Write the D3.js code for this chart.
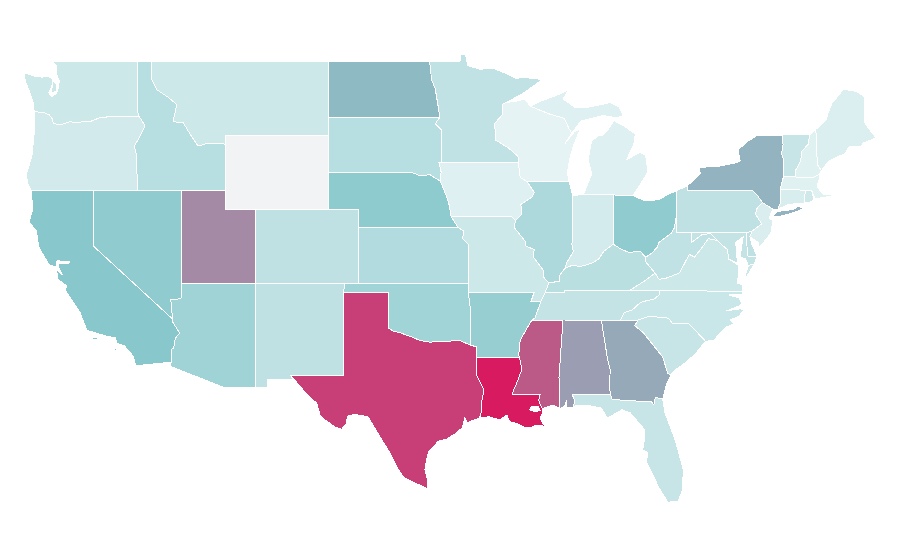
<!DOCTYPE html>
<meta charset="utf-8">
<style>
html,body{margin:0;background:#fff}
svg{display:block}
.state{stroke:#fff;stroke-width:1;stroke-linejoin:round;shape-rendering:crispEdges;fill-rule:evenodd}
</style>
<svg width="900" height="560"></svg>
<script src="https://cdn.jsdelivr.net/npm/d3@7"></script>
<script>
/*global d3*/
var width = 900, height = 560;

// state codes and their values (null = no data)
var stateCodes = ["WA","OR","CA","NV","ID","MT","WY","UT","AZ","NM","CO","ND","SD","NE","KS","OK","TX","MN","IA","MO","AR","LA","WI","IL","IN","MI","OH","KY","TN","MS","AL","GA","FL","SC","NC","VA","WV","PA","NY","NJ","MD","DE","CT","RI","MA","VT","NH","ME"];
var stateValues = [15,12,50,46,26,15,null,68,38,22,22,54,26,47,29,37,90,21,6,15,43,100,2,31,11,6,46,25,20,82,62,59,18,18,17,15,21,22,56,8,20,22,9,14,5,18,5,7];

// colour ramp
var rampStops = [0,50,100];
var rampColors = ["#eaf5f6","#88c8cc","#d81b60"];
var noDataColor = "#f2f3f5";

// outlines in lon/lat, one list of rings per state
var outlines = {
WA:[[[-122.76,49],[-117.04,49],[-117.04,46.42],[-116.92,46],[-118.98,46],[-119.3,45.93],[-119.6,45.92],[-120.2,45.73],[-120.65,45.73],[-121.2,45.65],[-121.55,45.72],[-122.25,45.55],[-122.7,45.62],[-122.8,45.9],[-123,46.1],[-123.4,46.22],[-124,46.26],[-124.05,46.7],[-124.15,46.95],[-124.3,47.3],[-124.6,47.9],[-124.7,48.38],[-124.1,48.2],[-123.5,48.13],[-123.1,48.15],[-122.8,48.1],[-122.78,47.7],[-123,47.3],[-122.85,47.07],[-122.55,47.2],[-122.4,47.45],[-122.3,47.9],[-122.5,48.3],[-122.5,48.75],[-122.76,49]],
[[-122.72,47.9],[-122.5,47.75],[-122.52,47.35],[-122.85,47.3]]],
OR:[[[-124,46.26],[-123.4,46.22],[-123,46.1],[-122.8,45.9],[-122.7,45.62],[-122.25,45.55],[-121.55,45.72],[-121.2,45.65],[-120.65,45.73],[-120.2,45.73],[-119.6,45.92],[-119.3,45.93],[-118.98,46],[-116.92,46],[-116.85,45.95],[-116.5,45.5],[-116.9,44.85],[-117.22,44.4],[-117.05,43.83],[-117.03,42],[-124.2,42],[-124.4,42.3],[-124.55,42.85],[-124.4,43.2],[-124.15,43.9],[-124.05,44.7],[-123.95,45.5]]],
CA:[[[-124.2,42],[-120,42],[-120,39],[-114.63,35.05],[-114.6,34.85],[-114.15,34.3],[-114.45,34],[-114.55,33.5],[-114.7,33.4],[-114.72,32.72],[-117.12,32.53],[-117.3,33.05],[-117.9,33.6],[-118.4,33.75],[-118.5,34.03],[-119.2,34.15],[-120.45,34.45],[-120.65,34.9],[-120.9,35.4],[-121.9,36.6],[-121.8,36.85],[-122.4,37.2],[-122.5,37.75],[-122.1,37.45],[-122.35,37.85],[-122.4,38.05],[-121.7,38.05],[-121.6,38.15],[-122.45,38.2],[-122.55,37.85],[-123,38],[-123.7,38.95],[-123.85,39.8],[-124.35,40.3],[-124.1,41]],
[[-120.2,34],[-119.9,34.07],[-119.55,34],[-119.9,33.95]],[[-118.6,33.47],[-118.35,33.4],[-118.5,33.33]]],
NV:[[[-120,42],[-114.05,42],[-114.05,36.2],[-114.35,36.1],[-114.75,36.1],[-114.7,35.6],[-114.63,35.05],[-120,39]]],
ID:[[[-117.04,49],[-116.05,49],[-116.05,48],[-115.7,47.45],[-114.95,47.05],[-114.35,46.65],[-114.6,45.72],[-113.9,45.65],[-113.45,45.05],[-112.9,44.4],[-112.3,44.55],[-111.5,44.55],[-111.05,44.5],[-111.05,42],[-117.03,42],[-117.05,43.83],[-117.22,44.4],[-116.9,44.85],[-116.5,45.5],[-116.85,45.95],[-116.92,46],[-117.04,46.42]]],
MT:[[[-116.05,49],[-104.05,49],[-104.05,45],[-111.05,45],[-111.05,44.5],[-111.5,44.55],[-112.3,44.55],[-112.9,44.4],[-113.45,45.05],[-113.9,45.65],[-114.6,45.72],[-114.35,46.65],[-114.95,47.05],[-115.7,47.45],[-116.05,48]]],
WY:[[[-111.05,45],[-104.05,45],[-104.05,41],[-111.05,41]]],
UT:[[[-114.05,42],[-111.05,42],[-111.05,41],[-109.05,41],[-109.05,37],[-114.05,37]]],
AZ:[[[-114.05,37],[-109.05,37],[-109.05,31.33],[-111.07,31.33],[-114.8,32.5],[-114.72,32.72],[-114.7,33.4],[-114.55,33.5],[-114.45,34],[-114.15,34.3],[-114.6,34.85],[-114.63,35.05],[-114.7,35.6],[-114.75,36.1],[-114.35,36.1],[-114.05,36.2]]],
NM:[[[-109.05,37],[-103,37],[-103.04,36.5],[-103.06,32],[-106.62,32],[-106.5,31.78],[-108.2,31.78],[-108.2,31.33],[-109.05,31.33]]],
CO:[[[-109.05,41],[-102.05,41],[-102.05,37],[-109.05,37]]],
ND:[[[-104.05,49],[-97.23,49],[-97.1,48],[-96.85,47.5],[-96.6,46.3],[-96.56,45.94],[-104.05,45.94]]],
SD:[[[-104.05,45.94],[-96.56,45.94],[-96.85,45.6],[-96.45,45.3],[-96.45,43.5],[-96.6,43.5],[-96.45,43],[-96.5,42.5],[-97.2,42.85],[-97.9,42.8],[-98.5,43],[-104.05,43]]],
NE:[[[-104.05,43],[-98.5,43],[-97.9,42.8],[-97.2,42.85],[-96.5,42.5],[-96.1,41.7],[-95.9,41.2],[-95.77,40.58],[-95.3,40],[-102.05,40],[-102.05,41],[-104.05,41]]],
KS:[[[-102.05,40],[-95.3,40],[-94.9,39.8],[-95,39.4],[-94.6,39.1],[-94.62,37],[-102.05,37]]],
OK:[[[-103,37],[-94.62,37],[-94.43,35.4],[-94.48,33.64],[-95.2,33.9],[-96,33.85],[-96.6,33.85],[-97.2,33.8],[-97.9,33.9],[-98.5,34.1],[-99.2,34.3],[-99.7,34.4],[-100,34.56],[-100,36.5],[-103.04,36.5]]],
TX:[[[-103.04,36.5],[-100,36.5],[-100,34.56],[-99.7,34.4],[-99.2,34.3],[-98.5,34.1],[-97.9,33.9],[-97.2,33.8],[-96.6,33.85],[-96,33.85],[-95.2,33.9],[-94.48,33.64],[-94.04,33.55],[-94.04,33],[-94.04,32],[-93.8,31.6],[-93.55,31.2],[-93.7,30.6],[-93.7,30.1],[-93.85,29.7],[-94.7,29.45],[-94.85,29.75],[-95,29.2],[-95.4,28.9],[-96.1,28.55],[-96.65,28.45],[-97,28.1],[-97.3,27.9],[-97.45,27.4],[-97.55,26.9],[-97.35,26.3],[-97.4,25.9],[-98.1,26.15],[-99,26.5],[-99.46,27.07],[-99.9,27.8],[-100.6,28.7],[-101.4,29.77],[-102.3,29.9],[-102.8,29.8],[-102.85,29.4],[-103.18,29.1],[-103.6,29.2],[-104.3,29.6],[-104.65,29.86],[-104.87,30.5],[-105.45,30.9],[-106.2,31.6],[-106.62,32],[-103.06,32]]],
MN:[[[-97.23,49],[-95.15,49],[-95.15,49.38],[-94.8,49.33],[-94.65,48.75],[-93.8,48.55],[-92.95,48.62],[-92,48.3],[-91.4,48.07],[-90.75,48.1],[-89.6,48],[-90.8,47.3],[-92.05,46.75],[-92.3,46.66],[-92.3,46.1],[-92.85,45.6],[-92.75,45],[-92.8,44.75],[-91.9,44.3],[-91.25,43.85],[-91.22,43.5],[-96.45,43.5],[-96.45,45.3],[-96.85,45.6],[-96.56,45.94],[-96.6,46.3],[-96.85,47.5],[-97.1,48]]],
IA:[[[-96.45,43.5],[-91.22,43.5],[-91.1,42.7],[-90.65,42.5],[-90.15,41.9],[-90.3,41.65],[-91.05,41.25],[-91,40.7],[-91.42,40.38],[-91.7,40.6],[-95.77,40.58],[-95.9,41.2],[-96.1,41.7],[-96.5,42.5],[-96.45,43],[-96.6,43.5]]],
MO:[[[-95.77,40.58],[-91.7,40.6],[-91.42,40.38],[-91.5,40],[-90.75,39.25],[-90.7,39],[-90.15,38.8],[-90.2,38.4],[-89.55,37.7],[-89.5,37.3],[-89.15,37],[-89.4,36.5],[-89.7,36],[-90.37,36],[-90.15,36.5],[-94.62,36.5],[-94.62,37],[-94.6,39.1],[-95,39.4],[-94.9,39.8],[-95.3,40]]],
AR:[[[-94.62,36.5],[-90.15,36.5],[-90.37,36],[-89.7,36],[-90.1,35.1],[-90.3,35],[-90.6,34.6],[-91.1,33.9],[-91.2,33.1],[-91.15,33],[-94.04,33],[-94.04,33.55],[-94.48,33.64],[-94.43,35.4]]],
LA:[[[-94.04,33],[-91.15,33],[-91,32.4],[-91,32.3],[-91.25,31.75],[-91.65,31],[-89.73,31],[-89.85,30.65],[-89.6,30.2],[-89.55,30],[-89.75,29.7],[-89.55,29.4],[-89.2,29.1],[-89.45,29.25],[-89.75,29.3],[-90.1,29.3],[-90.3,29.2],[-90.77,29.2],[-91.3,29.4],[-91.8,29.5],[-92,29.86],[-92.47,29.6],[-93.2,29.77],[-93.85,29.7],[-93.7,30.1],[-93.7,30.6],[-93.55,31.2],[-93.8,31.6],[-94.04,32]],
[[-90.45,30.15],[-90.3,30.35],[-89.85,30.3],[-89.75,30.1],[-90.1,30.05]]],
WI:[[[-92.05,46.75],[-91.2,46.85],[-90.8,46.95],[-90.4,46.55],[-89.1,46.13],[-88.1,45.9],[-87.8,45.35],[-87.6,45.1],[-88.05,44.55],[-87.4,45.2],[-87.05,45.3],[-87.5,44.4],[-87.75,43.7],[-87.9,43],[-87.8,42.5],[-90.65,42.5],[-91.1,42.7],[-91.22,43.5],[-91.25,43.85],[-91.9,44.3],[-92.8,44.75],[-92.75,45],[-92.85,45.6],[-92.3,46.1],[-92.3,46.66]]],
IL:[[[-90.65,42.5],[-87.8,42.5],[-87.53,41.7],[-87.53,39.35],[-87.6,39.1],[-87.5,38.7],[-87.95,38.1],[-88.05,37.8],[-88.45,37.4],[-88.45,37.1],[-89.15,37],[-89.5,37.3],[-89.55,37.7],[-90.2,38.4],[-90.15,38.8],[-90.7,39],[-90.75,39.25],[-91.5,40],[-91.42,40.38],[-91,40.7],[-91.05,41.25],[-90.3,41.65],[-90.15,41.9]]],
IN:[[[-87.53,41.7],[-87.2,41.76],[-86.82,41.76],[-84.8,41.76],[-84.8,39.1],[-85.45,38.7],[-85.8,38.28],[-86.3,38.05],[-87,37.9],[-87.6,37.95],[-88.05,37.8],[-87.95,38.1],[-87.5,38.7],[-87.6,39.1],[-87.53,39.35]]],
MI:[[[-90.4,46.55],[-89.8,46.8],[-88.45,47.2],[-87.8,47.45],[-88.2,46.95],[-87.4,46.5],[-86.5,46.5],[-85,46.75],[-84.4,46.5],[-84.1,46],[-84.7,45.95],[-85.5,46.05],[-86.5,45.85],[-87,45.75],[-87.6,45.1],[-87.8,45.35],[-88.1,45.9],[-89.1,46.13]],
[[-86.82,41.76],[-84.8,41.76],[-83.45,41.73],[-83.15,42.1],[-82.45,43],[-82.6,43.9],[-83,44.07],[-83.9,43.65],[-83.4,44.5],[-83.3,45.05],[-84.1,45.5],[-84.75,45.78],[-85.1,45.35],[-85.55,44.95],[-85.8,44.95],[-86.25,44.7],[-86.5,43.7],[-86.25,42.9]]],
OH:[[[-84.8,41.76],[-83.45,41.73],[-82.7,41.45],[-81.7,41.5],[-81.2,41.75],[-80.52,41.98],[-80.52,40.64],[-80.65,40],[-80.85,39.7],[-81.7,39.2],[-81.8,38.95],[-82.2,38.6],[-82.6,38.4],[-83,38.73],[-83.7,38.65],[-84.2,38.8],[-84.8,39.1]]],
KY:[[[-89.15,37],[-88.45,37.1],[-88.45,37.4],[-88.05,37.8],[-87.6,37.95],[-87,37.9],[-86.3,38.05],[-85.8,38.28],[-85.45,38.7],[-84.8,39.1],[-84.2,38.8],[-83.7,38.65],[-83,38.73],[-82.6,38.4],[-82.6,38.15],[-81.97,37.54],[-82.7,37.1],[-83.68,36.6],[-88.07,36.6],[-88.07,36.5],[-89.4,36.5]]],
TN:[[[-90.3,35],[-90.1,35.1],[-89.7,36],[-89.4,36.5],[-88.07,36.5],[-88.07,36.6],[-83.68,36.6],[-81.68,36.59],[-81.7,36.35],[-82.05,36.12],[-82.6,36.03],[-82.95,35.95],[-83.5,35.55],[-84.05,35.4],[-84.32,34.99],[-85.6,34.98],[-88.2,35]]],
MS:[[[-91.15,33],[-91.2,33.1],[-91.1,33.9],[-90.6,34.6],[-90.3,35],[-88.2,35],[-88.47,31.9],[-88.4,30.2],[-88.9,30.4],[-89.6,30.2],[-89.85,30.65],[-89.73,31],[-91.65,31],[-91.25,31.75],[-91,32.3],[-91,32.4]]],
AL:[[[-88.2,35],[-85.6,34.98],[-85.18,32.87],[-85,32.3],[-85.05,31.55],[-85,31],[-87.6,31],[-87.4,30.65],[-87.5,30.3],[-88,30.25],[-87.95,30.65],[-88.1,30.35],[-88.4,30.2],[-88.47,31.9]]],
GA:[[[-85.6,34.98],[-84.32,34.99],[-83.11,35],[-83.35,34.7],[-82.75,34.3],[-81.95,33.5],[-81.45,33],[-81.1,32.1],[-80.9,32.03],[-81.2,31.5],[-81.45,30.72],[-81.95,30.83],[-82.05,30.4],[-82.2,30.57],[-84.86,30.7],[-85,31],[-85.05,31.55],[-85,32.3],[-85.18,32.87]]],
FL:[[[-87.6,31],[-85,31],[-84.86,30.7],[-82.2,30.57],[-82.05,30.4],[-81.95,30.83],[-81.45,30.72],[-81.3,30],[-80.6,28.5],[-80.05,26.9],[-80.12,25.8],[-80.4,25.2],[-81.1,25.15],[-81.75,26],[-82.15,26.7],[-82.55,27.3],[-82.45,27.85],[-82.8,27.98],[-82.65,28.7],[-82.65,29.05],[-83.65,29.98],[-84.2,30.15],[-85.2,29.7],[-85.6,30.24],[-86.5,30.38],[-87.3,30.4],[-87.5,30.3],[-87.4,30.65]]],
SC:[[[-83.35,34.7],[-83.11,35],[-82.35,35.2],[-81.05,35.1],[-80.8,34.82],[-79.67,34.8],[-78.55,33.85],[-79.2,33.2],[-79.9,32.7],[-80.6,32.3],[-80.9,32.03],[-81.1,32.1],[-81.45,33],[-81.95,33.5],[-82.75,34.3]]],
NC:[[[-84.32,34.99],[-84.05,35.4],[-83.5,35.55],[-82.95,35.95],[-82.6,36.03],[-82.05,36.12],[-81.7,36.35],[-81.68,36.59],[-76.06,36.55],[-76.05,36.4],[-76.95,36.35],[-76.3,36.2],[-76.1,35.9],[-76.3,35.75],[-77.1,35.5],[-76.2,35.6],[-75.95,35.55],[-76.3,35.2],[-76.9,35],[-76.6,34.8],[-77.2,34.6],[-78,33.9],[-78.55,33.85],[-79.67,34.8],[-80.8,34.82],[-81.05,35.1],[-82.35,35.2],[-83.11,35]]],
VA:[[[-83.68,36.6],[-81.68,36.59],[-76.06,36.55],[-76.05,36.9],[-76.4,37],[-76.3,37.55],[-76.3,37.95],[-77,38.3],[-77.05,38.8],[-77.5,39.1],[-77.75,39.3],[-78.35,39.4],[-78.9,38.8],[-79.3,38.4],[-79.65,38.55],[-80.3,37.55],[-81.25,37.25],[-81.7,37.2],[-81.97,37.54],[-82.7,37.1]],
[[-75.95,37.15],[-75.6,37.55],[-75.25,38.03],[-75.65,37.95]]],
WV:[[[-82.6,38.15],[-82.6,38.4],[-82.2,38.6],[-81.8,38.95],[-81.7,39.2],[-80.85,39.7],[-80.65,40],[-80.52,40.64],[-80.52,39.72],[-79.48,39.72],[-79.48,39.2],[-78.8,39.6],[-78.2,39.68],[-77.75,39.3],[-78.35,39.4],[-78.9,38.8],[-79.3,38.4],[-79.65,38.55],[-80.3,37.55],[-81.25,37.25],[-81.7,37.2],[-81.97,37.54]]],
PA:[[[-80.52,41.98],[-79.76,42.27],[-79.76,42],[-75.35,42],[-75.05,41.75],[-74.7,41.35],[-75.1,41],[-75.15,40.7],[-74.75,40.2],[-75.4,39.8],[-75.8,39.72],[-80.52,39.72]]],
NY:[[[-79.76,42],[-79.76,42.27],[-78.9,42.9],[-79,43.25],[-77.7,43.3],[-76.5,43.5],[-76.2,43.6],[-76.35,44.2],[-75.7,44.65],[-75.1,44.95],[-74.7,45],[-73.35,45],[-73.3,44.5],[-73.4,44],[-73.25,43.6],[-73.27,42.75],[-73.5,42.05],[-73.5,41.3],[-73.65,41],[-74,41],[-74.7,41.35],[-75.05,41.75],[-75.35,42]],
[[-74,40.6],[-73.7,40.87],[-72.6,40.97],[-72.3,41.15],[-71.9,41.05],[-72.5,40.82],[-73.5,40.6]]],
NJ:[[[-74.7,41.35],[-74,41],[-74.25,40.5],[-74,40.4],[-74.1,39.75],[-74.4,39.4],[-74.9,38.95],[-75,39.2],[-75.55,39.5],[-75.4,39.8],[-74.75,40.2],[-75.15,40.7],[-75.1,41]]],
MD:[[[-79.48,39.72],[-75.8,39.72],[-75.7,38.46],[-75.05,38.45],[-75.25,38.03],[-75.65,37.95],[-75.85,38.3],[-76.2,38.4],[-76.1,39],[-76,39.5],[-76.5,39.2],[-76.45,38.5],[-76.35,38.05],[-77,38.3],[-77.05,38.8],[-77.5,39.1],[-77.75,39.3],[-78.2,39.68],[-78.8,39.6],[-79.48,39.2]]],
DE:[[[-75.8,39.72],[-75.4,39.8],[-75.55,39.5],[-75.4,39.05],[-75.05,38.45],[-75.7,38.46]]],
CT:[[[-73.5,42.05],[-71.8,42.02],[-71.85,41.32],[-72.9,41.25],[-73.65,41],[-73.5,41.3]]],
RI:[[[-71.8,42.02],[-71.38,42.02],[-71.2,41.5],[-71.5,41.37],[-71.85,41.32]]],
MA:[[[-73.5,42.05],[-73.27,42.75],[-72.46,42.73],[-71.3,42.7],[-70.85,42.87],[-70.8,42.75],[-71,42.2],[-70.6,41.8],[-70.05,41.78],[-70,41.7],[-70.65,41.62],[-71.13,41.55],[-71.2,41.7],[-71.38,42.02],[-71.8,42.02]]],
VT:[[[-73.35,45],[-71.5,45.01],[-71.6,44.5],[-72.05,44.1],[-72.1,43.6],[-72.45,43.1],[-72.46,42.73],[-73.27,42.75],[-73.25,43.6],[-73.4,44],[-73.3,44.5]]],
NH:[[[-71.5,45.01],[-71.08,45.3],[-70.98,43.4],[-70.7,43.07],[-70.85,42.87],[-71.3,42.7],[-72.46,42.73],[-72.45,43.1],[-72.1,43.6],[-72.05,44.1],[-71.6,44.5]]],
ME:[[[-71.08,45.3],[-70.4,45.8],[-70.25,46.2],[-70,46.7],[-69.23,47.46],[-69,47.45],[-68.3,47.35],[-67.8,47.07],[-67.8,45.7],[-67.45,45.3],[-67,44.85],[-67.9,44.55],[-68,44.4],[-68.8,44.4],[-69.1,44],[-69.8,43.75],[-70.25,43.55],[-70.7,43.07],[-70.98,43.4]]]
};

var svg = d3.select("svg");

// the reference stretches lat and lon linearly
var x = d3.scaleLinear().domain([-120,-80]).range([93.3,684.1]);
var y = d3.scaleLinear().domain([49,31]).range([61,394]);

var color = d3.scaleLinear().domain(rampStops).range(rampColors);

var ring = d3.line()
    .x(function(d) { return x(d[0]); })
    .y(function(d) { return y(d[1]); });

var rows = stateCodes.map(function(code, i) {
  return {code: code, value: stateValues[i], rings: outlines[code]};
});

svg.selectAll("path")
    .data(rows)
  .enter().append("path")
    .attr("class", "state")
    .attr("d", function(d) {
      return d.rings.map(function(r) { return ring(r) + "Z"; }).join("");
    })
    .attr("fill", function(d) { return d.value === null ? noDataColor : color(d.value); });
</script>
